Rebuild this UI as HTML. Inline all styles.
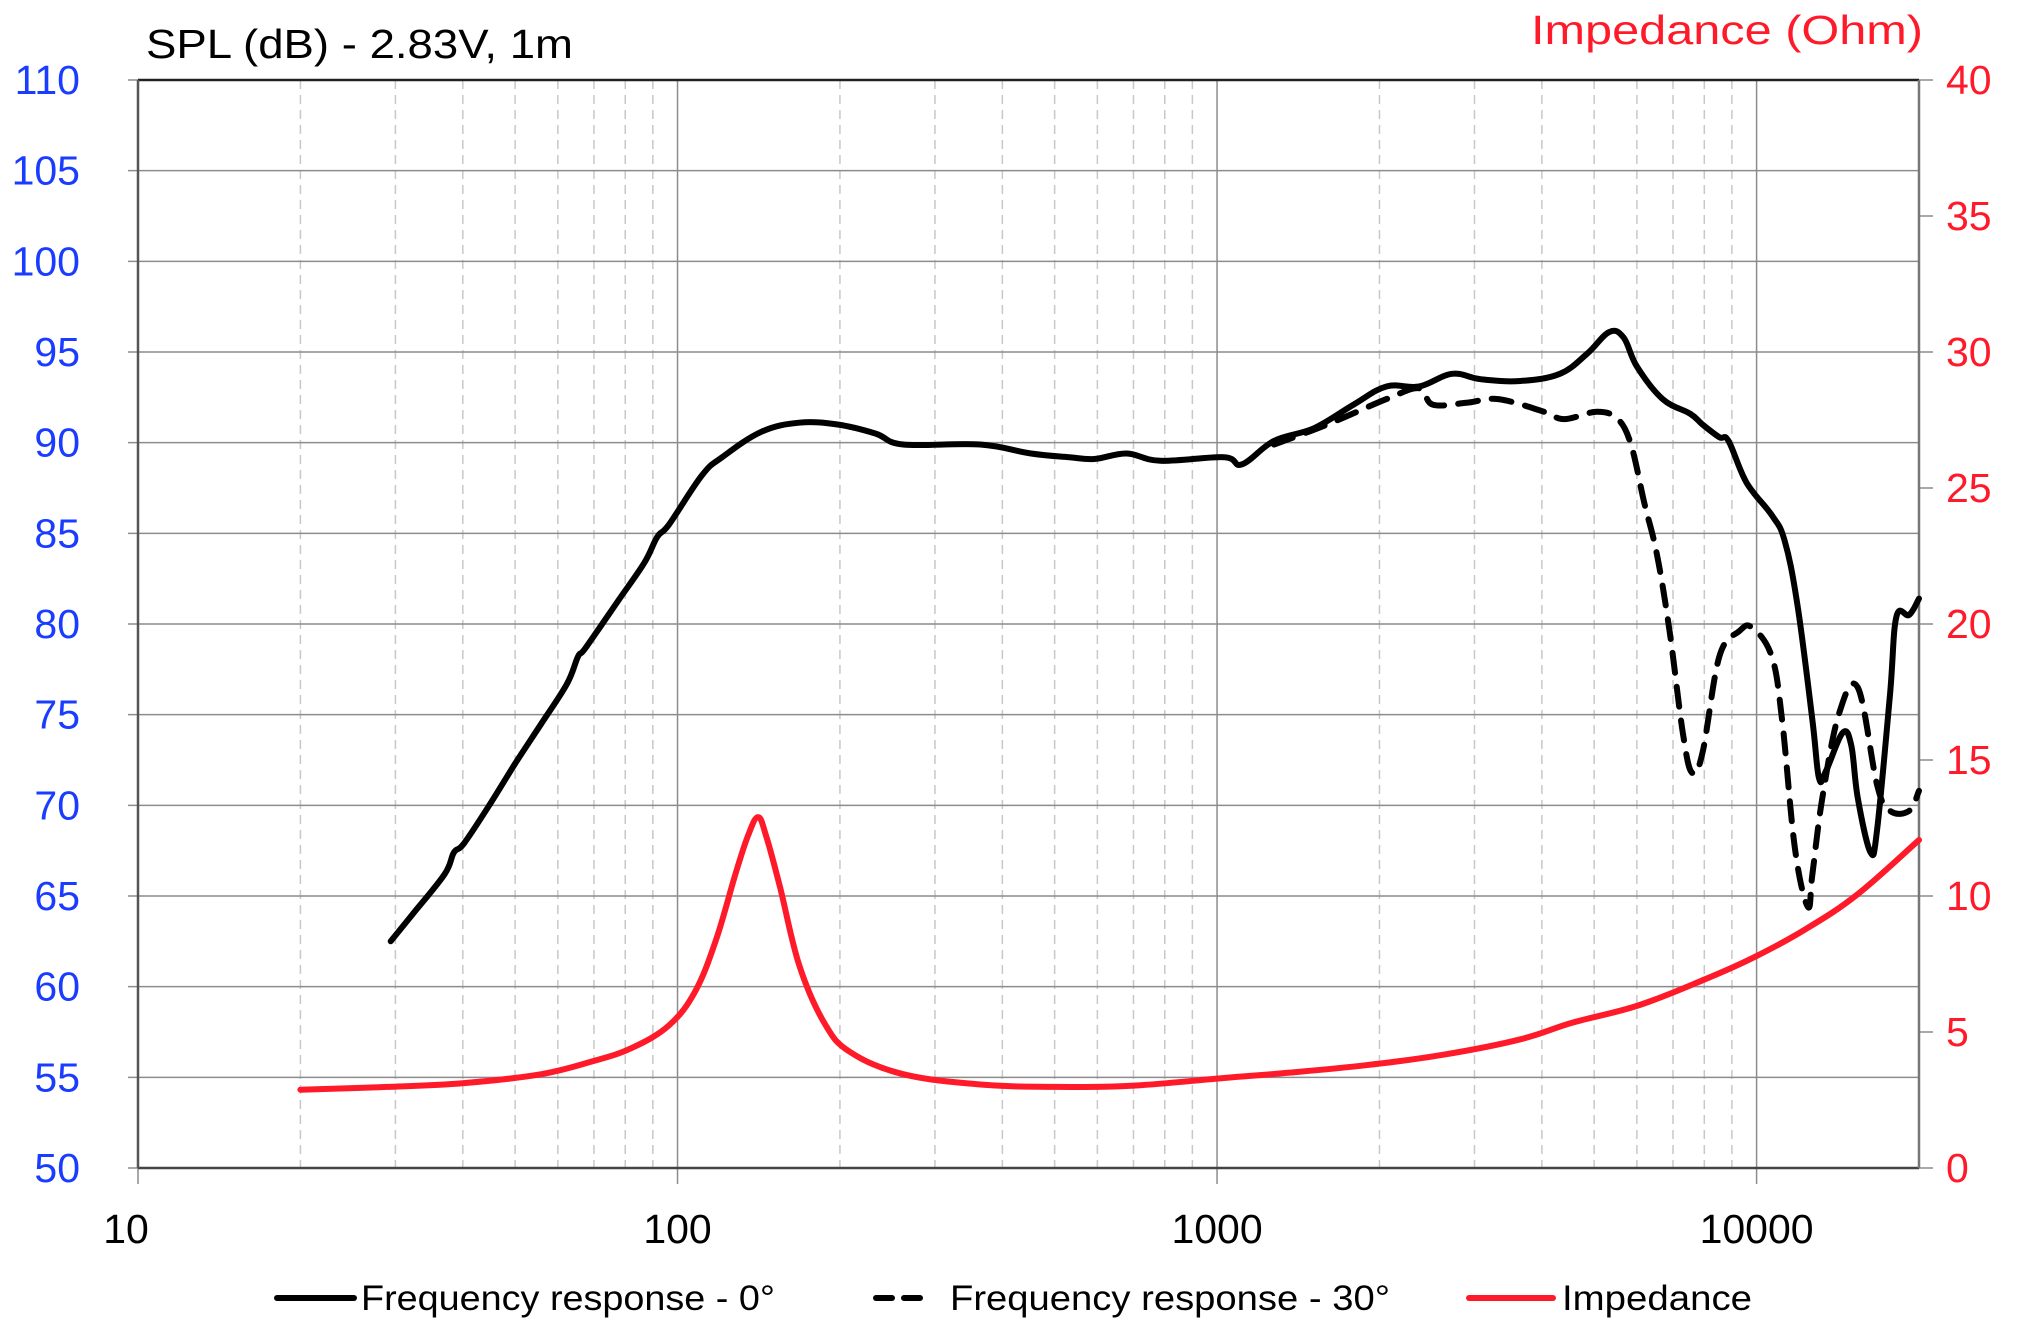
<!DOCTYPE html>
<html><head><meta charset="utf-8"><style>
html,body{margin:0;padding:0;background:#fff;}
svg{display:block;font-family:"Liberation Sans",sans-serif;}
</style></head><body>
<svg id="chart" width="2020" height="1335" viewBox="0 0 2020 1335" xmlns="http://www.w3.org/2000/svg">
<g id="grid"></g>
<g id="axes"></g>
<g id="series"></g>
<text x="146" y="58" font-size="41" fill="#000" textLength="427" lengthAdjust="spacingAndGlyphs">SPL (dB) - 2.83V, 1m</text>
<text x="1923" y="44" font-size="41" fill="#ff1a2a" text-anchor="end" textLength="392" lengthAdjust="spacingAndGlyphs">Impedance (Ohm)</text>
<g>
 <g>
  <line x1="277" y1="1298" x2="354" y2="1298" stroke="#000" stroke-width="6" stroke-linecap="round"/>
  <text x="361" y="1310" font-size="35" textLength="414" lengthAdjust="spacingAndGlyphs">Frequency response - 0°</text>
 </g>
 <g>
  <line x1="876" y1="1298" x2="932" y2="1298" stroke="#000" stroke-width="6" stroke-dasharray="16,12" stroke-linecap="round"/>
  <text x="950" y="1310" font-size="35" textLength="440" lengthAdjust="spacingAndGlyphs">Frequency response - 30°</text>
 </g>
 <g>
  <line x1="1469" y1="1298" x2="1553" y2="1298" stroke="#ff1a2a" stroke-width="6" stroke-linecap="round"/>
  <text x="1562" y="1310" font-size="35" textLength="190" lengthAdjust="spacingAndGlyphs">Impedance</text>
 </g>
</g>
</svg>
<script>
const freq0 = [29.4,32.3,37,38.5,40.2,45,50,55.9,62.4,65.4,67.6,77.7,86.9,91.7,96.5,111,121,143,168,198,233,262,364,452,532,592,680,785,1030,1112,1275,1513,1791,2060,2370,2725,3080,3650,4320,4850,5330,5670,6000,6700,7530,7940,8530,8870,9580,10670,11270,11900,12690,13050,13450,14440,14980,15400,16270,16730,17670,18160,19180,20000];
const spl0 = [62.5,64.0,66.2,67.4,67.9,70.1,72.3,74.5,76.7,78.2,78.7,81.3,83.4,84.8,85.5,88.2,89.2,90.6,91.1,91.0,90.5,89.9,89.9,89.4,89.2,89.1,89.4,89.0,89.2,88.8,90.1,90.8,92.1,93.1,93.1,93.8,93.5,93.4,93.8,94.9,96.1,95.8,94.2,92.4,91.6,91.0,90.3,90.1,87.8,86.0,84.6,81.1,74.7,71.5,71.9,74.0,73.3,70.4,67.4,68.7,76.1,80.4,80.5,81.4];
const freq30 = [1275,1600,2060,2370,2510,2900,3320,4040,4400,5060,5530,5850,6190,6530,6900,7300,7590,7940,8530,9280,9810,10670,11150,11780,12450,12690,13240,14200,15400,16730,17670,19180,20000];
const spl30 = [89.9,91.0,92.4,93.0,92.1,92.2,92.4,91.7,91.3,91.7,91.3,89.9,86.7,83.9,79.6,74.0,71.8,72.9,78.2,79.6,79.8,78.2,74.7,67.6,64.4,66.2,70.4,75.0,76.5,71.1,69.7,69.7,70.8];
const freqZ = [20,28.9,40.2,55.9,69.5,82,96.5,108,118,128,135,141,146,155,168,187,209,262,364,505,701,1030,1353,1888,2620,3650,4550,6000,7940,9900,12350,15400,20000];
const imped = [2.88,2.98,3.12,3.45,3.92,4.40,5.25,6.52,8.42,10.8,12.2,12.9,12.2,10.3,7.47,5.34,4.26,3.45,3.07,2.98,3.03,3.31,3.50,3.78,4.16,4.73,5.34,5.96,6.90,7.75,8.79,10.07,12.06];
const leftTicks = [50,55,60,65,70,75,80,85,90,95,100,105,110];
const rightTicks = [0,5,10,15,20,25,30,35,40];
const xTicks = [10,100,1000,10000];

const L=138,R=1919,T=80,B=1168;
const xs = f => L + (Math.log10(f)-1)*(R-L)/(Math.log10(20000)-1);
const yL = v => B - (v-50)*(B-T)/60;
const yR = v => B - v*(B-T)/40;
const NS="http://www.w3.org/2000/svg";
function mk(tag, attrs, parent){const e=document.createElementNS(NS,tag);for(const k in attrs)e.setAttribute(k,attrs[k]);parent.appendChild(e);return e;}
const grid=document.getElementById('grid'), axes=document.getElementById('axes'), series=document.getElementById('series');

for (let d=10; d<=10000; d*=10){
  for (let m=2;m<=9;m++){
    const f=d*m; if (f>20000) continue;
    const x=xs(f);
    const ln=mk('line',{x1:x,y1:T,x2:x,y2:B,stroke:'#c8c8c8','stroke-width':1.5,'stroke-dasharray':'9,6'},grid);
    
    
  }
}
leftTicks.forEach(v=>{
  const y=yL(v);
  const ln=mk('line',{x1:L-10,y1:y,x2:R,y2:y,stroke:'#8c8c8c','stroke-width':1.5},grid);
  
  
  const t=mk('text',{x:80,y:y+14,'font-size':41,fill:'#1a3cff','text-anchor':'end'},axes);
  t.textContent=v;
  
  
});
rightTicks.forEach(v=>{
  const y=yR(v);
  const ln=mk('line',{x1:R,y1:y,x2:R+14,y2:y,stroke:'#8c8c8c','stroke-width':1.5},axes);
  
  
  const t=mk('text',{x:1946,y:y+14,'font-size':41,fill:'#ff1a2a'},axes);
  t.textContent=v;
  
  
});
xTicks.forEach(f=>{
  const x=xs(f);
  const ln=mk('line',{x1:x,y1:T,x2:x,y2:B+16,stroke:'#8c8c8c','stroke-width':1.5},grid);
  
  
  const t=mk('text',{x:f===10?x-12:x,y:1243,'font-size':41,fill:'#000','text-anchor':'middle'},axes);
  t.textContent=f;
  
  
});
let a=mk('line',{x1:L,y1:T,x2:R,y2:T,stroke:'#222','stroke-width':2.5},axes);

a=mk('line',{x1:L,y1:B,x2:R,y2:B,stroke:'#444','stroke-width':2.5},axes);

a=mk('line',{x1:L,y1:T,x2:L,y2:B,stroke:'#555','stroke-width':2.5},axes);

a=mk('line',{x1:R,y1:T,x2:R,y2:B,stroke:'#777','stroke-width':2.5},axes);


// smooth path (Catmull-Rom -> cubic Bezier) through the data points
function pathOf(fr, vals, yf){
  const P=fr.map((f,i)=>[xs(f),yf(vals[i])]);
  let d='M'+P[0][0].toFixed(1)+','+P[0][1].toFixed(1);
  const k=0.18;
  for(let i=0;i<P.length-1;i++){
    const p0=P[i-1]||P[i], p1=P[i], p2=P[i+1], p3=P[i+2]||P[i+1];
    const c1=[p1[0]+(p2[0]-p0[0])*k, p1[1]+(p2[1]-p0[1])*k];
    const c2=[p2[0]-(p3[0]-p1[0])*k, p2[1]-(p3[1]-p1[1])*k];
    d+=' C'+c1[0].toFixed(1)+','+c1[1].toFixed(1)+' '+c2[0].toFixed(1)+','+c2[1].toFixed(1)+' '+p2[0].toFixed(1)+','+p2[1].toFixed(1);
  }
  return d;
}
let p=mk('path',{d:pathOf(freqZ,imped,yR),fill:'none',stroke:'#ff1a2a','stroke-width':6,'stroke-linejoin':'round','stroke-linecap':'round'},series);

p=mk('path',{d:pathOf(freq30,spl30,yL),fill:'none',stroke:'#000','stroke-width':6,'stroke-dasharray':'20,14','stroke-linejoin':'round','stroke-linecap':'round'},series);

p=mk('path',{d:pathOf(freq0,spl0,yL),fill:'none',stroke:'#000','stroke-width':6,'stroke-linejoin':'round','stroke-linecap':'round'},series);

</script>
</body></html>
